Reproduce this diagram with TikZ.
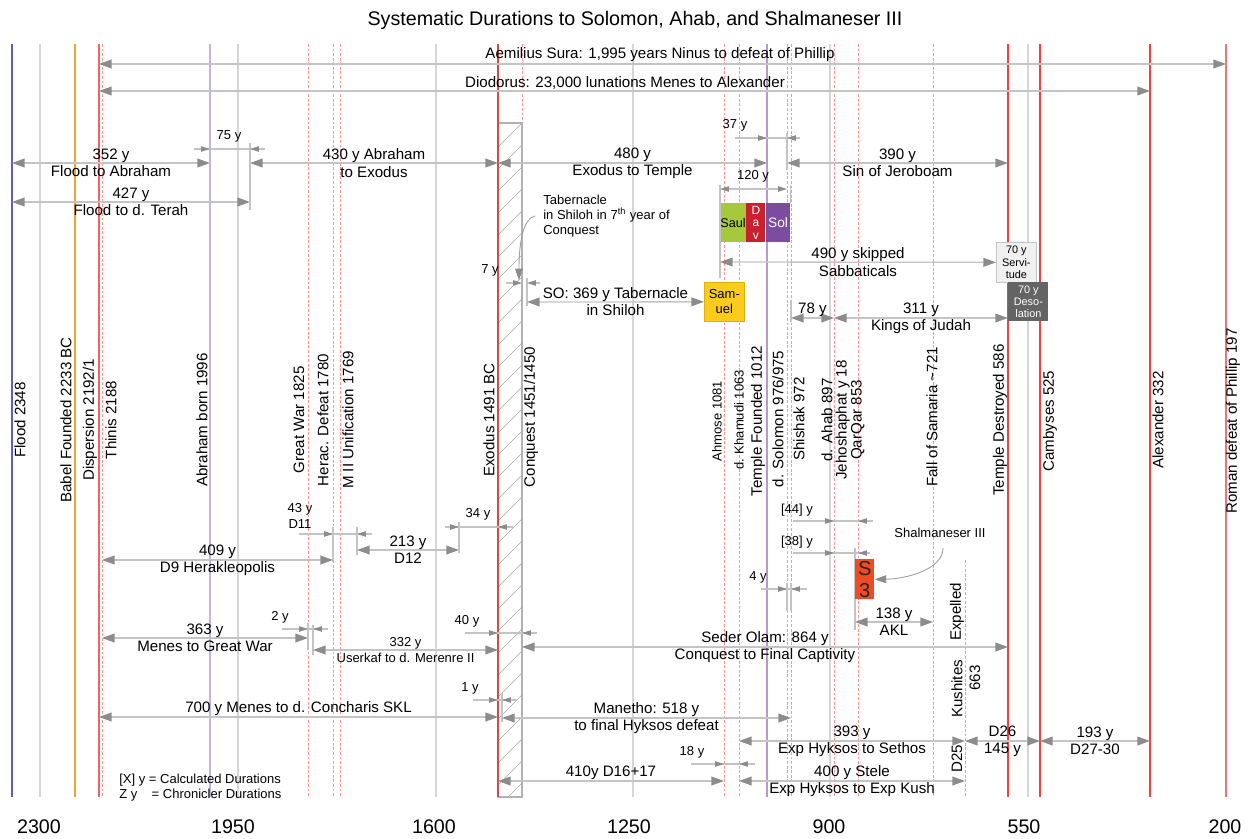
\documentclass[tikz,border=0pt]{standalone}
\usepackage{fontspec}
\setmainfont{Liberation Sans}
\usetikzlibrary{arrows.meta,positioning}

\definecolor{floodblue}{HTML}{5B60B8}
\definecolor{babelorange}{HTML}{F4A034}
\definecolor{softred}{HTML}{F06464}
\definecolor{exodusred}{HTML}{DC4646}
\definecolor{brightred}{HTML}{FA3C3C}
\definecolor{salmonred}{HTML}{F07474}
\definecolor{abrlavender}{HTML}{C4B4E4}
\definecolor{templeviolet}{HTML}{B898D0}
\definecolor{gridgray}{HTML}{D6D6D6}
\definecolor{spangray}{HTML}{C4C4C4}
\definecolor{tipgray}{HTML}{8C8C8C}
\definecolor{datepink}{HTML}{FF9494}
\definecolor{saulgreen}{HTML}{A6C83C}
\definecolor{davred}{HTML}{C8202C}
\definecolor{solpurple}{HTML}{7C4CA0}
\definecolor{samgold}{HTML}{FCCC1C}
\definecolor{samborder}{HTML}{E0B010}
\definecolor{servgray}{HTML}{F0F0F0}
\definecolor{desogray}{HTML}{646464}
\definecolor{shalorange}{HTML}{F04C24}

\newcommand{\mainfs}{\fontsize{8.6}{9.8}\selectfont}
\newcommand{\smallfs}{\fontsize{7.4}{8.6}\selectfont}
\newcommand{\boxfs}{\fontsize{6.2}{6.9}\selectfont}
\newcommand{\axisfs}{\fontsize{11.2}{13}\selectfont}

\tikzset{
  evline/.style={line width=1.1pt, draw=#1},
  gridline/.style={line width=0.6pt, draw=gridgray},
  dateline/.style={line width=0.5pt, draw=datepink, dash pattern=on 1.6pt off 1pt},
  evlabel/.style={rotate=90, font=\mainfs, inner sep=0pt},
  durarrow/.style={draw=spangray, line width=0.75pt,
    >={Triangle[length=7.2pt,width=5pt,color=tipgray]}, <->},
  smallarr/.style={draw=spangray, line width=0.6pt,
    >={Triangle[length=5pt,width=3pt,color=tipgray]}, ->},
  smallspan/.style={smallarr, <->},
  extline/.style={draw=spangray, line width=0.6pt},
  callout/.style={draw=gray!75, line width=0.5pt,
    >={Triangle[length=6.5pt,width=4.5pt,color=tipgray]}, ->},
  lbl/.style={font=\mainfs, align=center, inner sep=0pt},
  lblup/.style={lbl, anchor=south, inner sep=0.6pt},
  lblsm/.style={font=\smallfs, align=center, inner sep=0pt},
  kingbox/.style={inner sep=0pt, align=center, anchor=north west, minimum height=0.78cm}
}

\begin{document}
\begin{tikzpicture}[x=0.02cm, y=-0.02cm]
\useasboundingbox (0,0) rectangle (1252,839);

\node[font=\axisfs, inner sep=0pt] (title) at (635,20)
  {Systematic Durations to Solomon, Ahab, and Shalmaneser III};

\foreach \n/\xx in {flood/12,g2300/40,babel/75,dispersion/99,thinis/102,abraham/210,
  g1950/238,terah/250,greatwar/308,herac/333,mii/340,g1600/436,exodus/498,conquest/522,
  g1250/633,ahmose/724,khamudi/739,temple/767,solomon/787,shishak/791,g900/830,ahab/834,
  qarqar/858,samaria/933,kushites/965,destroyed/1008,g550/1028,cambyses/1040,
  alexander/1150,roman/1226}
  \coordinate (\n) at (\xx,44);

% time lines
\foreach \n in {g2300,g1950,g1600,g1250,g900,g550}
  \draw[gridline] (\n) -- (\n|-0,797);
\foreach \n in {thinis,greatwar,herac,mii,conquest,ahmose,khamudi,solomon,shishak,ahab,qarqar,samaria}
  \draw[dateline] (\n) -- (\n|-0,797);
\draw[dateline] (kushites|-0,560) -- (kushites|-0,797);

\draw[gray!60, line width=0.6pt, fill=white] (exodus|-0,123) rectangle (conquest|-0,797);
\begin{scope}
  \clip (exodus|-0,123) rectangle (conquest|-0,797);
  \foreach \k in {0,...,31}
    \draw[gray!70, line width=0.35pt] (498,147+22*\k) -- (522,123+22*\k);
\end{scope}

\draw[evline=floodblue] (flood) -- (flood|-0,797);
\draw[evline=babelorange] (babel) -- (babel|-0,797);
\draw[evline=softred] (dispersion) -- (dispersion|-0,797);
\draw[evline=abrlavender, line width=0.7pt] (abraham) -- (abraham|-0,797);
\draw[evline=exodusred, line width=1.3pt] (exodus) -- (exodus|-0,797);
\draw[evline=templeviolet, line width=0.8pt] (temple) -- (temple|-0,797);
\foreach \n in {destroyed,cambyses,alexander}
  \draw[evline=brightred] (\n) -- (\n|-0,797);
\draw[evline=salmonred] (roman) -- (roman|-0,797);

\node[evlabel] (lflood) at (20,420) {Flood 2348};
\node[evlabel] (lbabel) at (66,420) {Babel Founded 2233 BC};
\node[evlabel] (ldispersion) at (90,420) {Dispersion 2192/1};
\node[evlabel] (lthinis) at (111,420) {Thinis 2188};
\node[evlabel] (labraham) at (202,420) {Abraham born 1996};
\node[evlabel] (lgreatwar) at (299,420) {Great War 1825};
\node[evlabel] (lherac) at (323,420) {Herac. Defeat 1780};
\node[evlabel] (lmii) at (348,420) {M II Unification 1769};
\node[evlabel] (lexodus) at (489,420) {Exodus 1491 BC};
\node[evlabel] (lconquest) at (531,417) {Conquest 1451/1450};
\node[evlabel, font=\smallfs] (lahmose) at (717,421) {Ahmose 1081};
\node[evlabel, font=\smallfs] (lkhamudi) at (739,420) {d. Khamudi 1063};
\node[evlabel] (ltemple) at (758,421) {Temple Founded 1012};
\node[evlabel] (lsolomon) at (778,419) {d. Solomon 976/975};
\node[evlabel] (lshishak) at (799,419) {Shishak 972};
\node[evlabel] (lahab) at (827,420) {d. Ahab 897};
\node[evlabel, align=center] (lqarqar) at (850,420) {Jehoshaphat y 18\\[-1.3pt]QarQar 853};
\node[evlabel] (lsamaria) at (932,417) {Fall of Samaria \textasciitilde721};
\node[evlabel] (ldestroyed) at (1000,420) {Temple Destroyed 586};
\node[evlabel] (lcambyses) at (1050,421) {Cambyses 525};
\node[evlabel] (lalexander) at (1158,420) {Alexander 332};
\node[evlabel] (lroman) at (1233,421) {Roman defeat of Phillip 197};

% long spans
\draw[durarrow] (dispersion|-0,64) -- (roman|-0,64);
\node[lbl] (sura) at (660,55) {Aemilius Sura: 1,995 years Ninus to defeat of Phillip};
\draw[durarrow] (dispersion|-0,91) -- (alexander|-0,91);
\node[lbl] (diodorus) at (625,83) {Diodorus: 23,000 lunations Menes to Alexander};

\draw[durarrow] (flood|-0,163) -- node[lbl] (abr352) {352 y\\Flood to Abraham} (abraham|-0,163);
\draw[durarrow] (terah|-0,163) -- node[lbl] (abr430) {430 y Abraham\\to Exodus} (exodus|-0,163);
\draw[durarrow] (exodus|-0,163) -- node[lbl] (ex480) {480 y\\Exodus to Temple} (temple|-0,163);
\draw[durarrow] (solomon|-0,163) -- node[lbl] (jer390) {390 y\\Sin of Jeroboam} (destroyed|-0,163);
\draw[durarrow] (flood|-0,202) -- node[lbl] (ter427) {427 y\\Flood to d. Terah} (terah|-0,202);

\node[lblsm] (y75) at (229,136) {75 y};
\draw[extline] (terah|-0,143) -- (terah|-0,210);
\draw[extline] (194,149) -- (265,149);
\draw[smallarr] (194,149) -- (abraham|-0,149);
\draw[smallarr] (265,149) -- (terah|-0,149);

\node[lblsm] (y37) at (735,125) {37 y};
\draw[extline] (solomon|-0,133) -- (solomon|-0,170);
\draw[extline] (735,138) -- (800,138);
\draw[smallarr] (735,138) -- (temple|-0,138);
\draw[smallarr] (800,138) -- (solomon|-0,138);

% kings
\node[kingbox, fill=saulgreen, minimum width=0.48cm, font=\fontsize{7.2}{8}\selectfont] (saul) at (720,203) {Saul};
\node[kingbox, fill=davred, text=white, minimum width=0.38cm, font=\fontsize{6.8}{6.9}\selectfont] (dav) at (saul.north east) {D\\a\\v};
\node[kingbox, fill=solpurple, text=white, minimum width=0.48cm, font=\fontsize{7.8}{9}\selectfont] (sol) at (dav.north east) {Sol};
\node[kingbox, fill=samgold, draw=samborder, minimum width=0.8cm, font=\smallfs] (samuel) at (704,282) {Sam-\\uel};
\node[kingbox, fill=servgray, draw=gray!45, minimum width=0.8cm, minimum height=0.8cm, font=\boxfs] (servitude) at (996,242) {70 y\\Servi-\\tude};
\node[kingbox, fill=desogray, text=white, minimum width=0.8cm, font=\boxfs] (desolation) at (destroyed|-0,282) {70 y\\Deso-\\lation};

\node[lblsm] (y120) at (753,176) {120 y};
\draw[extline] (720,185) -- (720,278);
\draw[extline] (sol.north east) -- ++(0,-18);
\draw[smallspan] (720,189) -- (787,189);

\draw[durarrow] (720,262) -- node[lbl] (sab490) {490 y skipped\\Sabbaticals} (servitude.west);

% tabernacle
\node[lblsm, align=left, anchor=west] (tabnote) at (543,216) {Tabernacle\\in Shiloh in 7\textsuperscript{th} year of\\Conquest};
\draw[callout] ([xshift=-0.16cm]tabnote.west) .. controls (524,218) and (519,240) .. (519,280);
\node[lblsm] (y7) at (490,270) {7 y};
\draw[smallarr] (506,283) -- (conquest|-0,283);
\draw[smallarr] (540,283) -- (527,283);
\draw[extline] (527,278) -- (527,306);
\draw[durarrow] (527,302) -- node[lbl] (so369) {SO: 369 y Tabernacle\\in Shiloh} (samuel.west);

\draw[extline] (shishak|-0,300) -- (shishak|-0,322);
\draw[durarrow] (shishak|-0,318) -- node[lblup] (y78) {78 y} (ahab|-0,318);
\draw[durarrow] (ahab|-0,318) -- node[lbl] (jud311) {311 y\\Kings of Judah} (destroyed|-0,318);

% middle kingdom
\node[lblsm] (d11) at (300,516) {43 y\\D11};
\draw[extline] (299,534) -- (372,534);
\draw[smallarr] (299,534) -- (herac|-0,534);
\draw[smallarr] (372,534) -- (357,534);
\draw[extline] (herac|-0,527) -- (herac|-0,562);
\draw[extline] (357,527) -- (357,555);
\draw[durarrow] (357,550) -- node[lbl] (d12) {213 y\\D12} (459,550);
\draw[extline] (459,522) -- (459,553);

\node[lblsm] (y34) at (478,514) {34 y};
\draw[extline] (445,527) -- (513,527);
\draw[smallarr] (445,527) -- (459,527);
\draw[smallarr] (513,527) -- (exodus|-0,527);

\draw[durarrow] (thinis|-0,560) -- node[lbl] (d9) {409 y\\D9 Herakleopolis} (herac|-0,560);

% ahab and shalmaneser
\node[lblsm] (y44) at (797,510) {[44] y};
\draw[extline] (793,521) -- (873,521);
\draw[smallarr] (793,521) -- (ahab|-0,521);
\draw[smallarr] (873,521) -- (qarqar|-0,521);
\node[lblsm] (y38) at (797,542) {[38] y};
\draw[extline] (793,553) -- (870,553);
\draw[smallarr] (793,553) -- (ahab|-0,553);
\draw[smallarr] (870,553) -- (qarqar|-0,553);
\draw[extline] (855,548) -- (855,630);

\node[kingbox, fill=shalorange, minimum width=0.38cm, minimum height=0.8cm, text=black!85, font=\fontsize{11.5}{12.5}\selectfont] (s3) at (855,559) {S\\3};
\node[lblsm] (shal) at (940,533) {Shalmaneser III};
\draw[callout] (943,548) .. controls (943,570) and (905,579) .. (s3.east);

\node[lblsm] (y4) at (758,577) {4 y};
\draw[extline] (761,589) -- (807,589);
\draw[smallarr] (761,589) -- (solomon|-0,589);
\draw[smallarr] (807,589) -- (shishak|-0,589);
\draw[extline] (solomon|-0,583) -- (solomon|-0,611);
\draw[extline] (shishak|-0,583) -- (shishak|-0,611);

\draw[durarrow] (855,622) -- node[lbl] (akl) {138 y\\AKL} (samaria|-0,622);

\node[evlabel] (expelled) at (957,612) {Expelled};
\node[evlabel] (kushitesl) at (957,689) {Kushites};
\node[evlabel] (kush663) at (975,678) {663};
\node[evlabel] (d25) at (957,759) {D25};

% old kingdom
\node[lblsm] (y2) at (280,617) {2 y};
\draw[extline] (282,629) -- (328,629);
\draw[smallarr] (282,629) -- (greatwar|-0,629);
\draw[smallarr] (328,629) -- (313,629);
\draw[extline] (greatwar|-0,623) -- (greatwar|-0,650);
\draw[extline] (313,625) -- (313,655);
\draw[durarrow] (thinis|-0,638) -- node[lbl] (men363) {363 y\\Menes to Great War} (greatwar|-0,638);
\draw[durarrow] (313,650) -- node[lblsm] (usk332) {332 y\\Userkaf to d. Merenre II} (exodus|-0,650);

\node[lblsm] (y40) at (467,621) {40 y};
\draw[extline] (465,633) -- (537,633);
\draw[smallarr] (465,633) -- (exodus|-0,633);
\draw[smallarr] (537,633) -- (conquest|-0,633);

\draw[durarrow] (conquest|-0,647) -- node[lbl] (so864) {Seder Olam: 864 y\\Conquest to Final Captivity} (destroyed|-0,647);

\node[lblsm] (y1) at (470,688) {1 y};
\draw[extline] (473,700) -- (517,700);
\draw[smallarr] (473,700) -- (exodus|-0,700);
\draw[smallarr] (517,700) -- (502,700);
\draw[extline] (502,693) -- (502,722);

\draw[durarrow] (dispersion|-0,717) -- node[lblup] (men700) {700 y Menes to d. Concharis SKL} (exodus|-0,717);
\draw[durarrow] (502,718) -- node[lbl] (man518) {Manetho: 518 y\\to final Hyksos defeat} (shishak|-0,718);

% late periods
\draw[durarrow] (khamudi|-0,741) -- node[lbl] (hyk393) {393 y\\Exp Hyksos to Sethos} (kushites|-0,741);
\draw[durarrow] (kushites|-0,741) -- node[lbl] (d26) {D26\\145 y} (cambyses|-0,741);
\draw[durarrow] (cambyses|-0,741) -- node[lbl] (d27) {193 y\\D27-30} (alexander|-0,741);

\node[lblsm] (y18) at (692,752) {18 y};
\draw[extline] (691,764) -- (755,764);
\draw[smallarr] (691,764) -- (ahmose|-0,764);
\draw[smallarr] (755,764) -- (khamudi|-0,764);

\draw[durarrow] (exodus|-0,781) -- node[lblup] (d16) {410y D16+17} (ahmose|-0,781);
\draw[durarrow] (khamudi|-0,781) -- node[lbl] (stele) {400 y Stele\\Exp Hyksos to Exp Kush} (kushites|-0,781);

\node[font=\smallfs, anchor=west, inner sep=0pt, align=left] (legend) at (119,788)
  {[X] y = Calculated Durations\\Z y\hspace{1.1em}= Chronicler Durations};

\foreach \lab/\xx in {2300/39,1950/233,1600/434,1250/629,900/829,550/1024,200/1225}
  \node[font=\axisfs, inner sep=0pt] (ax\lab) at (\xx,827) {\lab};
\end{tikzpicture}
\end{document}
